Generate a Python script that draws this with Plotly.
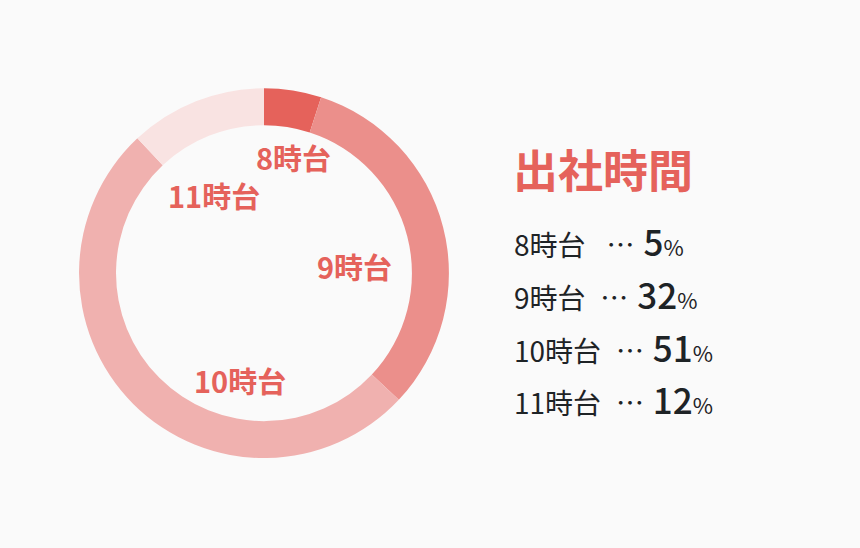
import plotly.graph_objects as go

labels = ["8時台", "9時台", "10時台", "11時台"]
values = [5, 32, 51, 12]
colors = ["#E5625B", "#EB8F8B", "#F0B1AF", "#F9E3E2"]

title = "出社時間"
accent = "#E5625B"
text_dark = "#1E2326"
bg = "#FAFAFA"
font_jp = "Noto Sans CJK JP"

fig = go.Figure()
fig.add_trace(go.Pie(
    labels=labels,
    values=values,
    hole=0.8,
    sort=False,
    direction="clockwise",
    rotation=0,
    marker=dict(colors=colors, line=dict(width=0)),
    textinfo="none",
    hoverinfo="label+percent",
    showlegend=False,
    domain=dict(x=[0.0919, 0.522], y=[0.164, 0.839]),
))

# ラベル（ドーナツの内側）
label_pos = [(0.341, 0.7135), (0.412, 0.5146), (0.279, 0.3066), (0.249, 0.644)]
for lab, (x, y) in zip(labels, label_pos):
    fig.add_annotation(x=x, y=y, xref="paper", yref="paper", xanchor="center", yanchor="middle",
                       text="<b>" + lab + "</b>", showarrow=False,
                       font=dict(family=font_jp, size=29, color=accent))

# タイトル
fig.add_annotation(x=0.594, y=0.693, xref="paper", yref="paper", xanchor="left", yanchor="middle",
                   text="<b>" + title + "</b>", showarrow=False,
                   font=dict(family=font_jp, size=45, color=accent))

# 凡例テキスト
row_y = [0.5639, 0.4672, 0.3704, 0.2755]
num_style = "font-size:35px;font-family:\"Noto Sans CJK JP Medium\",\"Noto Sans CJK JP\""
for i, (lab, v) in enumerate(zip(labels, values)):
    gap = "  " if len(lab) == 3 and v < 10 else " "
    txt = (lab + gap + "<span style='font-size:38px'> </span>…<span style='font-size:40px'> </span>"
           + "<span style='" + num_style + "'>" + str(v) + "</span>"
           + "<span style='font-size:22px'>%</span>")
    fig.add_annotation(x=0.595, y=row_y[i], xref="paper", yref="paper", xanchor="left", yanchor="middle",
                       text=txt, showarrow=False,
                       font=dict(family=font_jp, size=28, color=text_dark))

fig.update_layout(
    width=860, height=548,
    margin=dict(l=0, r=0, t=0, b=0),
    paper_bgcolor=bg,
    plot_bgcolor=bg,
)

fig.write_html("out.html", config={"displayModeBar": False},
               post_script="document.body.style.margin='0';document.body.style.background='#FAFAFA';")
